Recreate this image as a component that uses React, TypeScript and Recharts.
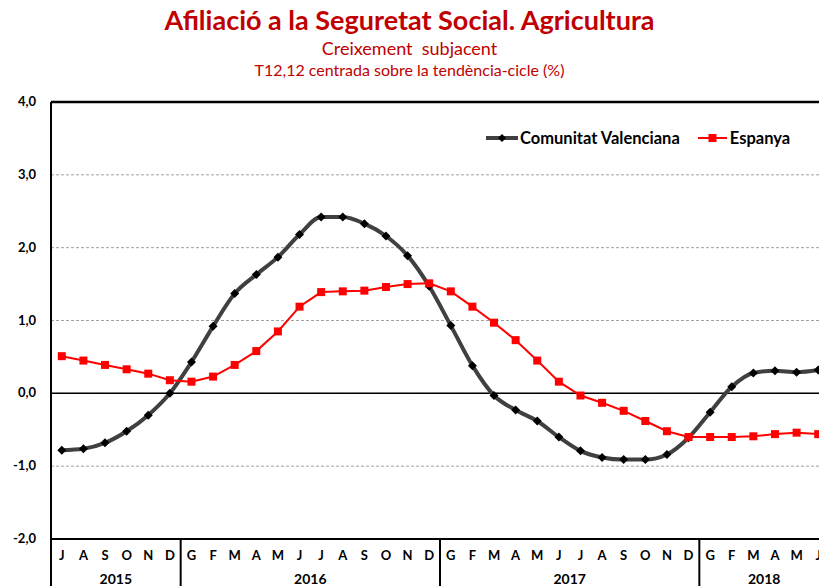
import React from 'react';
import {
  LineChart, Line, XAxis, YAxis, CartesianGrid, ReferenceLine,
} from 'recharts';

// ── Data ──────────────────────────────────────────────────────────────────────
const MONTHS = [
  'J', 'A', 'S', 'O', 'N', 'D',
  'G', 'F', 'M', 'A', 'M', 'J', 'J', 'A', 'S', 'O', 'N', 'D',
  'G', 'F', 'M', 'A', 'M', 'J', 'J', 'A', 'S', 'O', 'N', 'D',
  'G', 'F', 'M', 'A', 'M', 'J',
];
const YEARS = ['2015', '2016', '2017', '2018'];
const YEAR_START = [0, 6, 18, 30];
const YEAR_LEN = [6, 12, 12, 6];

const CV = [
  -0.78, -0.76, -0.68, -0.52, -0.30, 0.00,
  0.43, 0.92, 1.37, 1.63, 1.87, 2.18, 2.42, 2.42, 2.33, 2.16, 1.89, 1.47,
  0.93, 0.38, -0.03, -0.23, -0.38, -0.60, -0.79, -0.88, -0.91, -0.91, -0.84, -0.61,
  -0.26, 0.09, 0.28, 0.31, 0.29, 0.32,
];
const ESP = [
  0.51, 0.45, 0.39, 0.33, 0.27, 0.18,
  0.16, 0.23, 0.39, 0.58, 0.85, 1.19, 1.39, 1.40, 1.41, 1.46, 1.50, 1.51,
  1.40, 1.19, 0.97, 0.73, 0.45, 0.16, -0.03, -0.13, -0.24, -0.38, -0.52, -0.60,
  -0.60, -0.60, -0.59, -0.56, -0.54, -0.56,
];
const Y_TICKS = [-2, -1, 0, 1, 2, 3, 4];

const data = MONTHS.map((m, i) => ({ m, cv: CV[i], esp: ESP[i] }));

// ── Layout ────────────────────────────────────────────────────────────────────
const FONT = 'Lato, "Open Sans", sans-serif';
const RED = '#C00000';
const CHART_W = 829;
const CHART_H = 586;
const LEFT = 51;
const TOP = 102;
const X_AXIS_H = 47;
const PLOT_BOTTOM = CHART_H - X_AXIS_H;
const BAND = (CHART_W - LEFT) / MONTHS.length;

const XTick = (props: any) => {
  const { x, index, payload } = props;
  const yi = YEAR_START.indexOf(index);
  return (
    <g>
      <text x={x} y={560} textAnchor="middle" fontFamily={FONT} fontWeight={700} fontSize={13} fill="#000">
        {payload.value}
      </text>
      {yi >= 0 && (
        <g>
          <line x1={x - BAND / 2} x2={x - BAND / 2} y1={PLOT_BOTTOM} y2={CHART_H} stroke="#000" strokeWidth={2} />
          <text x={x + ((YEAR_LEN[yi] - 1) / 2) * BAND} y={584} textAnchor="middle"
                fontFamily={FONT} fontWeight={700} fontSize={14} fill="#000">
            {YEARS[yi]}
          </text>
        </g>
      )}
    </g>
  );
};

const YTick = (props: any) => {
  const { y, payload } = props;
  return (
    <text x={36} y={y + 4} textAnchor="end" fontFamily={FONT} fontWeight={700} fontSize={13} fill="#000">
      {payload.value.toFixed(1).replace('.', ',')}
    </text>
  );
};

const Diamond = (props: any) => {
  const { cx, cy } = props;
  if (cx == null || cy == null) return null;
  const r = 4.5;
  return <polygon points={`${cx},${cy - r} ${cx + r},${cy} ${cx},${cy + r} ${cx - r},${cy}`} fill="#000" />;
};

const Square = (props: any) => {
  const { cx, cy } = props;
  if (cx == null || cy == null) return null;
  return <rect x={cx - 4} y={cy - 4} width={8} height={8} fill="#FF0000" />;
};

const LegendBox = () => (
  <div style={{ position: 'absolute', left: 486, top: 127, display: 'flex', alignItems: 'center',
                fontFamily: FONT, fontWeight: 700, fontSize: 16.5, color: '#000', lineHeight: '22px' }}>
    <svg width={32} height={10}>
      <line x1={0} x2={32} y1={5} y2={5} stroke="#404040" strokeWidth={4} />
      <polygon points="16,1 20,5 16,9 12,5" fill="#000" />
    </svg>
    <span style={{ marginLeft: 2 }}>Comunitat Valenciana</span>
    <svg width={29} height={10} style={{ marginLeft: 18 }}>
      <line x1={0} x2={29} y1={5} y2={5} stroke="#FF0000" strokeWidth={2} />
      <rect x={10.5} y={1} width={8} height={8} fill="#FF0000" />
    </svg>
    <span style={{ marginLeft: 3 }}>Espanya</span>
  </div>
);

export default function App() {
  return (
    <div style={{ position: 'fixed', left: 0, top: 0, width: 819, height: 586, overflow: 'hidden', background: '#fff' }}>
      <div style={{ position: 'absolute', left: 0, top: 3, width: 819, textAlign: 'center', fontFamily: FONT, color: RED }}>
        <div style={{ fontSize: 27, fontWeight: 700, lineHeight: '34px' }}>Afiliació a la Seguretat Social. Agricultura</div>
        <div style={{ fontSize: 18, lineHeight: '22px', whiteSpace: 'pre' }}>Creixement  subjacent</div>
        <div style={{ fontSize: 16, lineHeight: '22px' }}>T12,12 centrada sobre la tendència-cicle (%)</div>
      </div>
      <div style={{ position: 'absolute', left: 0, top: 0 }}>
        <LineChart width={CHART_W} height={CHART_H} data={data} margin={{ top: TOP, right: 0, bottom: 0, left: 0 }}>
          <CartesianGrid horizontal vertical={false} stroke="#a0a0a0" strokeDasharray="3 2" />
          <XAxis dataKey="m" interval={0} height={X_AXIS_H} tickLine={false}
                 padding={{ left: BAND / 2, right: BAND / 2 }}
                 axisLine={{ stroke: '#000', strokeWidth: 2 }} tick={<XTick />} />
          <YAxis domain={[-2, 4]} ticks={Y_TICKS} width={LEFT} tickLine={false}
                 axisLine={{ stroke: '#000', strokeWidth: 2 }} tick={<YTick />} />
          <ReferenceLine y={4} stroke="#000" strokeWidth={2.5} />
          <ReferenceLine y={0} stroke="#000" strokeWidth={1.5} />
          <Line type="monotone" dataKey="cv" name="Comunitat Valenciana" stroke="#404040" strokeWidth={4}
                dot={<Diamond />} activeDot={false} isAnimationActive={false} />
          <Line type="linear" dataKey="esp" name="Espanya" stroke="#FF0000" strokeWidth={2}
                dot={<Square />} activeDot={false} isAnimationActive={false} />
        </LineChart>
      </div>
      <LegendBox />
      {/* left axis continues through the category box */}
      <div style={{ position: 'absolute', left: 50, top: PLOT_BOTTOM, width: 2, height: X_AXIS_H, background: '#000' }} />
    </div>
  );
}
